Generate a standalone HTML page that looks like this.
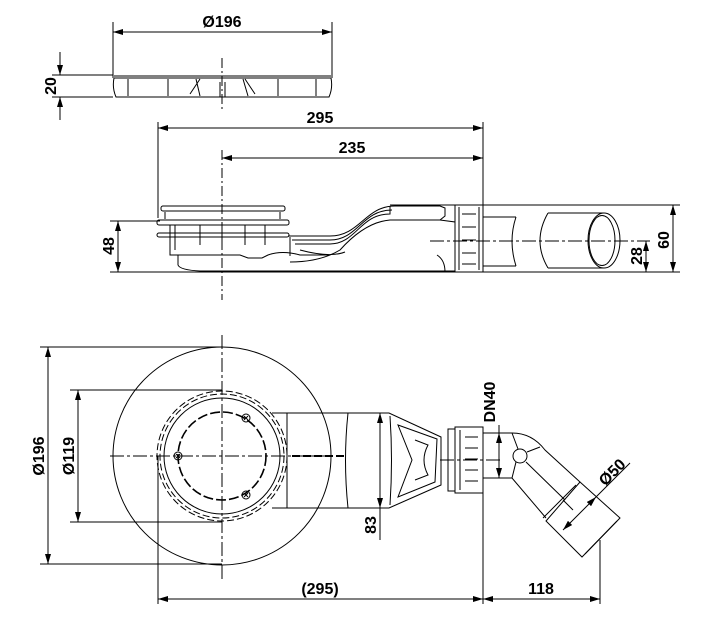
<!DOCTYPE html>
<html><head><meta charset="utf-8"><style>
html,body{margin:0;padding:0;background:#fff;}
svg{display:block;}
text{font-family:"Liberation Sans",Arial,sans-serif;font-weight:bold;font-size:16px;fill:#000;}
</style></head><body>
<svg width="713" height="630" viewBox="0 0 713 630" xmlns="http://www.w3.org/2000/svg">
<defs>
<marker id="a" viewBox="0 0 10 6" refX="10" refY="3" markerWidth="10" markerHeight="6" orient="auto-start-reverse" markerUnits="userSpaceOnUse"><path d="M0,0L10,3L0,6z" fill="#000"/></marker>
</defs>
<g stroke="#000" stroke-width="1" fill="none">
<line x1="113" y1="22" x2="113" y2="78"/><line x1="332" y1="22" x2="332" y2="78"/>
<line x1="113" y1="32" x2="332" y2="32" marker-start="url(#a)" marker-end="url(#a)"/>
<line x1="52" y1="75" x2="113" y2="75"/><line x1="52" y1="97" x2="113" y2="97"/>
<line x1="60" y1="52" x2="60" y2="75" marker-end="url(#a)"/><line x1="60" y1="120" x2="60" y2="97" marker-end="url(#a)"/>
<path d="M114,76 H331 M114,78 H331 M114,78 q-2,10 2,19 H329 q4,-9 2,-19"/>
<path d="M128,79 V96 M168,79 V96 M196,79 L200,96 M220,82 V97 M225,82 V97 M243,79 L248,96 M278,79 V96 M316,79 V96"/>
<path d="M200,79 L190,94 M245,79 L255,94"/>
<line x1="222" y1="58" x2="222" y2="110" stroke-dasharray="10,3,2,3"/>
<line x1="158" y1="122" x2="158" y2="218"/><line x1="483" y1="122" x2="483" y2="205"/>
<line x1="222" y1="150" x2="222" y2="300" stroke-dasharray="10,3,2,3"/>
<line x1="158" y1="128" x2="483" y2="128" marker-start="url(#a)" marker-end="url(#a)"/>
<line x1="222" y1="158" x2="483" y2="158" marker-start="url(#a)" marker-end="url(#a)"/>
<line x1="390" y1="205" x2="680" y2="205"/>
<line x1="110" y1="272" x2="680" y2="272"/>
<line x1="110" y1="221" x2="160" y2="221"/>
<line x1="118" y1="221" x2="118" y2="272" marker-start="url(#a)" marker-end="url(#a)"/>
<line x1="673" y1="205" x2="673" y2="272" marker-start="url(#a)" marker-end="url(#a)"/>
<line x1="646" y1="241" x2="646" y2="272" marker-start="url(#a)" marker-end="url(#a)"/>
<line x1="430" y1="241" x2="650" y2="241" stroke-dasharray="14,3,3,3"/>
<rect x="161" y="206" width="124" height="5" rx="2"/>
<rect x="157" y="220" width="132" height="5" rx="2"/>
<rect x="157" y="233" width="132" height="4" rx="2"/>
<path d="M165,212 V219 M280,212 V219"/>
<path d="M170,225 V255 H178 V265 Q180,270 200,271 H455 M290,237 V256"/>
<path d="M175,225 V250 M200,225 V245 M222,225 V245 M245,225 V245 M265,225 V245"/>
<path d="M178,255 H240 L248,258 H262 L268,255 Q282,250 300,255 H330"/>
<path d="M288,236 H330 C360,236 365,206 395,206 H440 L445,208 V216 L440,220 H390 Q365,222 340,250 Q320,262 290,262"/>
<path d="M292,240 H330 C358,240 362,210 392,210"/>
<path d="M295,244 H330 C356,244 360,214 390,214 V206"/>
<path d="M300,250 Q330,258 345,252"/>
<path d="M440,220 L455,222 V268 M437,255 Q445,260 445,272"/>
<rect x="455" y="205" width="28" height="67"/>
<path d="M459,207 V270 M479,207 V270 M462,214 H476 M462,227 H476 M462,240 H476 M462,253 H476 M462,264 H476"/>
<path d="M483,217 H516 M483,266 H516"/>
<path d="M516,217 Q508,241 516,266"/>
<path d="M548,213 H604 M548,268 H604 M548,213 Q532,241 548,268"/>
<ellipse cx="604" cy="240.5" rx="16" ry="27.5"/>
<ellipse cx="602" cy="240.5" rx="13" ry="25"/>
<line x1="40" y1="347" x2="222" y2="347"/><line x1="40" y1="564" x2="222" y2="564"/>
<line x1="70" y1="390" x2="222" y2="390"/><line x1="70" y1="522" x2="222" y2="522"/>
<line x1="48" y1="347" x2="48" y2="564" marker-start="url(#a)" marker-end="url(#a)"/>
<line x1="78" y1="390" x2="78" y2="522" marker-start="url(#a)" marker-end="url(#a)"/>
<circle cx="222" cy="456" r="109"/>
<circle cx="222" cy="456" r="65" stroke-dasharray="7,3"/>
<circle cx="222" cy="456" r="62" stroke-dasharray="7,3"/>
<circle cx="222" cy="456" r="58"/>
<circle cx="222" cy="456" r="44" stroke-dasharray="10,3" stroke-width="1.6"/>
<circle cx="246" cy="418" r="4"/><circle cx="178" cy="456" r="4"/><circle cx="246" cy="495" r="4"/>
<path d="M244,416 l4,4 M248,416 l-4,4 M176,454 l4,4 M180,454 l-4,4 M244,493 l4,4 M248,493 l-4,4"/>
<line x1="222" y1="335" x2="222" y2="580" stroke-dasharray="14,3,3,3"/>
<line x1="110" y1="456" x2="330" y2="456" stroke-dasharray="14,3,3,3"/>
<line x1="158" y1="456" x2="158" y2="604"/>
<path d="M272,413 H389 L441,437 V485 L389,508 H272"/>
<path d="M287,413 V508 M348,413 Q343,460 348,508"/>
<path d="M390,416 Q393,460 390,505"/>
<path d="M292,456 H345" stroke-width="2" stroke-dasharray="8,3"/>
<path d="M398,425 L437,439 L435,482 L398,497 L412,460 Z"/>
<path d="M415,440 L428,445 Q420,460 428,475 L415,480"/>
<line x1="380" y1="413" x2="380" y2="508" marker-start="url(#a)" marker-end="url(#a)"/>
<line x1="380" y1="508" x2="380" y2="540"/>
<rect x="448" y="429" width="7" height="62"/>
<rect x="455" y="427" width="28" height="66"/>
<path d="M460,430 V490 M465,437 H478 M465,448 H478 M465,459 H478 M465,470 H478 M465,481 H478"/>
<line x1="440" y1="460" x2="500" y2="460" stroke-dasharray="14,3,3,3"/>
<path d="M483,433 H512 Q532,433 545,450 L580,482 M483,478 H512 L546,518"/>
<circle cx="520" cy="456" r="7"/>
<path d="M512,433 L518,449 M512,478 L516,462 M527,452 L540,447 M526,462 L565,500"/>
<path d="M580,482 L620,518 L582,557 L546,521 Z"/>
<path d="M576,485 L543,518 M617,521 L585,554"/>
<path d="M563,500 L573,510"/>
<line x1="563" y1="530" x2="596" y2="497" marker-start="url(#a)" marker-end="url(#a)"/>
<line x1="596" y1="497" x2="630" y2="463"/>
<line x1="499" y1="433" x2="499" y2="478" marker-start="url(#a)" marker-end="url(#a)"/>
<line x1="499" y1="425" x2="499" y2="433"/>
<line x1="483" y1="493" x2="483" y2="604"/>
<line x1="600" y1="540" x2="600" y2="604"/>
<line x1="158" y1="599" x2="483" y2="599" marker-start="url(#a)" marker-end="url(#a)"/>
<line x1="483" y1="599" x2="600" y2="599" marker-start="url(#a)" marker-end="url(#a)"/>
</g>
<text x="222" y="27" text-anchor="middle">Ø196</text>
<text transform="translate(56,86) rotate(-90)" text-anchor="middle">20</text>
<text x="320" y="123" text-anchor="middle">295</text>
<text x="352" y="153" text-anchor="middle">235</text>
<text transform="translate(114,246) rotate(-90)" text-anchor="middle">48</text>
<text transform="translate(669,240) rotate(-90)" text-anchor="middle">60</text>
<text transform="translate(642,256) rotate(-90)" text-anchor="middle">28</text>
<text transform="translate(44,456) rotate(-90)" text-anchor="middle">Ø196</text>
<text transform="translate(74,456) rotate(-90)" text-anchor="middle">Ø119</text>
<text transform="translate(376,525) rotate(-90)" text-anchor="middle">83</text>
<text transform="translate(495,402) rotate(-90)" text-anchor="middle">DN40</text>
<text transform="translate(616,476) rotate(-45)" text-anchor="middle">Ø50</text>
<text x="320" y="594" text-anchor="middle">(295)</text>
<text x="541" y="594" text-anchor="middle">118</text>
</svg>
</body></html>
